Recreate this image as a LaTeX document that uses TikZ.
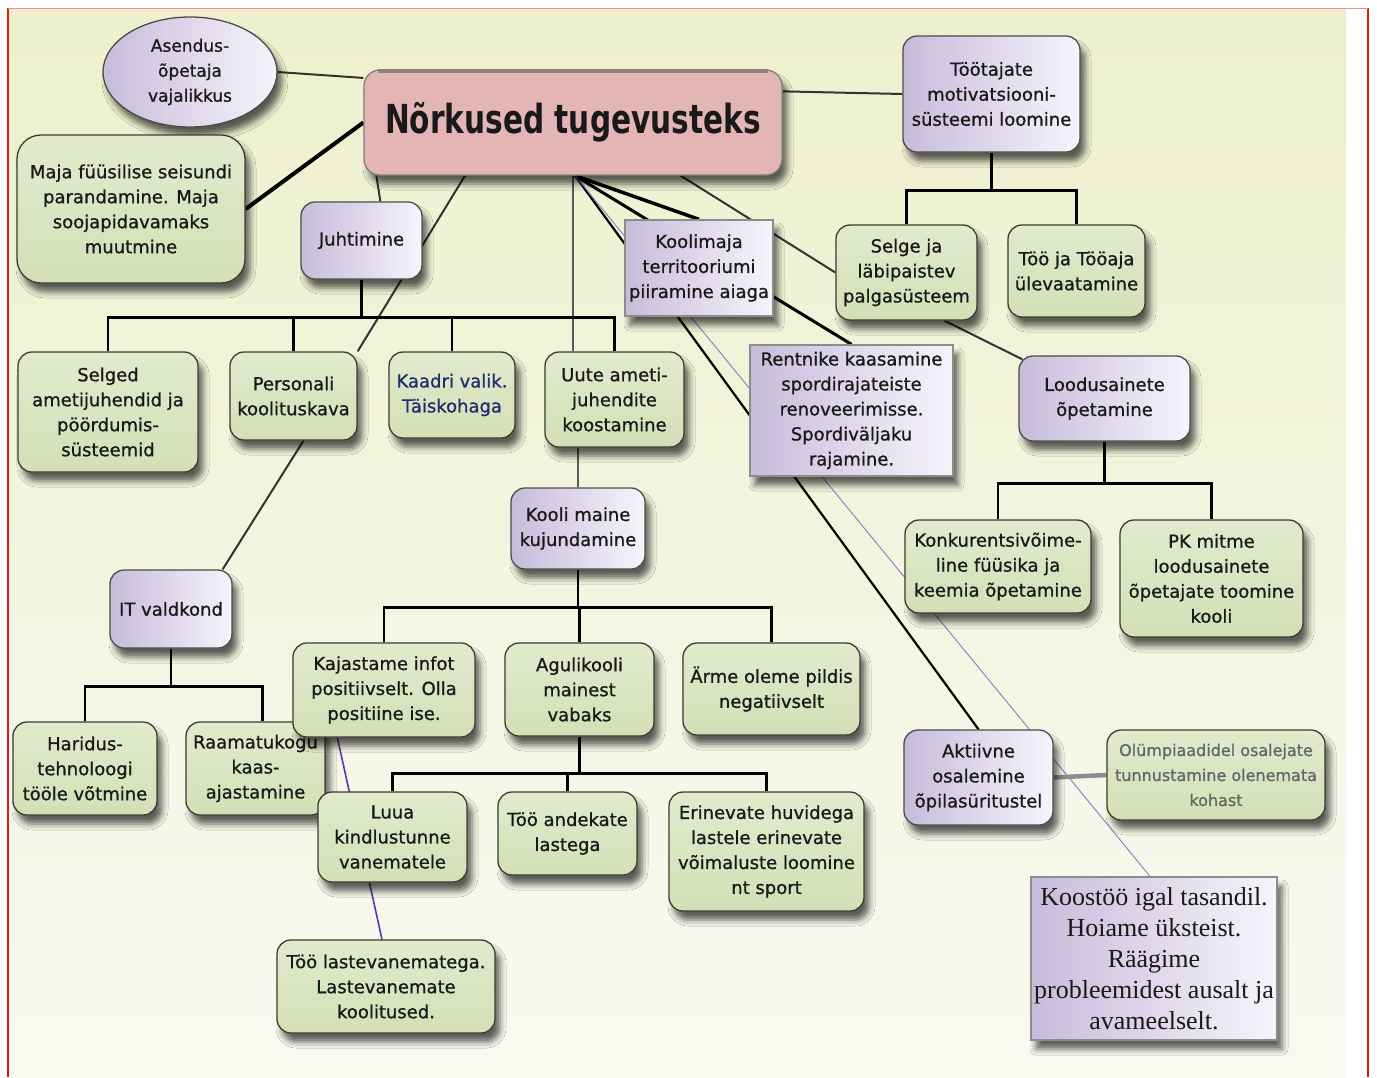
\documentclass[tikz,border=0pt]{standalone}
\usepackage{fontspec}
\setmainfont{DejaVu Sans}[RawFeature={embolden=0.9}]
\newfontfamily\titlefont{DejaVu Sans}[FakeStretch=0.74]
\newfontfamily\serfont{Liberation Serif}
\usetikzlibrary{shapes.geometric,shadows.blur,calc}
\pgfdeclarelayer{bgl}
\pgfdeclarelayer{lines}
\pgfsetlayers{bgl,lines,main}

\definecolor{bgtop}{RGB}{237,240,204}
\definecolor{bgmid}{RGB}{241,243,218}
\definecolor{bgbot}{RGB}{249,249,242}
\definecolor{grn}{RGB}{212,223,182}
\definecolor{grnl}{RGB}{226,234,205}
\definecolor{purL}{RGB}{198,188,218}
\definecolor{purR}{RGB}{247,244,252}
\definecolor{pinkf}{RGB}{227,181,181}
\definecolor{bordr}{RGB}{58,62,48}
\definecolor{lav}{RGB}{140,120,195}
\definecolor{vio}{RGB}{100,50,170}
\definecolor{navy}{RGB}{30,45,110}
\definecolor{redl}{RGB}{235,20,20}
\definecolor{bandc}{RGB}{140,130,128}

\tikzset{
  base/.style={inner sep=2pt, align=center, font={\fontsize{18}{25}\selectfont}, text=black!90, line width=1.3pt,
    blur shadow={shadow xshift=5pt,shadow yshift=-9pt,shadow blur radius=6pt,shadow opacity=62}},
  sz/.style 2 args={minimum width=#1pt, minimum height=#2pt},
  gbox/.style={base, rounded corners=14pt, draw=bordr, top color=grnl, bottom color=grn},
  pbox/.style={base, rounded corners=14pt, draw=black!70, left color=purL, right color=purR},
  prect/.style={base, draw=black!45, left color=purL, right color=purR},
  pell/.style={base, ellipse, draw=black!70, left color=purL, right color=purR},
  mainbox/.style={base, rounded corners=16pt, draw=black!50, fill=pinkf,
    font={\titlefont\bfseries\fontsize{40}{44}\selectfont}},
  treeln/.style={line width=2.6pt, black},
  lnk/.style={line width=2pt, black!80},
}

\begin{document}
\begin{tikzpicture}[x=1pt,y=-1pt]
\useasboundingbox (0,0) rectangle (1377,1077);

% nodes
\node[pell, sz={174}{110}, font={\fontsize{17}{25}\selectfont}] (asend) at (190,72) {Asendus-\\õpetaja\\vajalikkus};
\node[mainbox, sz={418}{105}] (main) at (573,122.5) {Nõrkused tugevusteks};
\draw[bandc, line width=4pt] ($(main.north west)+(15,2)$) -- ($(main.north east)+(-15,2)$);
\node[gbox, sz={228}{148}, rounded corners=24pt] (maja) at (131,209) {Maja füüsilise seisundi\\parandamine. Maja\\soojapidavamaks\\muutmine};
\node[pbox, sz={121}{77}] (juht) at (361.5,240.5) {Juhtimine};
\node[prect, sz={148}{96}] (koolim) at (699,268) {Koolimaja\\territooriumi\\piiramine aiaga};
\node[pbox, sz={177}{116}] (toot) at (991.5,94) {Töötajate\\motivatsiooni-\\süsteemi loomine};
\node[gbox, sz={141}{95}] (selge) at (906.5,272.5) {Selge ja\\läbipaistev\\palgasüsteem};
\node[gbox, sz={137}{92}] (tooaeg) at (1076.5,271) {Töö ja Tööaja\\ülevaatamine};
\node[gbox, sz={180}{120}] (selged) at (108,412) {Selged\\ametijuhendid ja\\pöördumis-\\süsteemid};
\node[gbox, sz={127}{88}] (pers) at (293.5,396) {Personali\\koolituskava};
\node[gbox, sz={126}{86}, text=navy] (kaadri) at (452,395) {Kaadri valik.\\Täiskohaga};
\node[gbox, sz={139}{95}] (uute) at (614.5,399.5) {Uute ameti-\\juhendite\\koostamine};
\node[prect, sz={203}{131}] (rent) at (851.5,410.5) {Rentnike kaasamine\\spordirajateiste\\renoveerimisse.\\Spordiväljaku\\rajamine.};
\node[pbox, sz={171}{85}] (lood) at (1104.5,398.5) {Loodusainete\\õpetamine};
\node[pbox, sz={134}{81}] (kooli) at (578,528.5) {Kooli maine\\kujundamine};
\node[gbox, sz={186}{93}] (konk) at (998,566.5) {Konkurentsivõime-\\line füüsika ja\\keemia õpetamine};
\node[gbox, sz={183}{117}] (pk) at (1211.5,578.5) {PK mitme\\loodusainete\\õpetajate toomine\\kooli};
\node[pbox, sz={122}{78}] (it) at (171,609) {IT valdkond};
\node[gbox, sz={139}{93}] (raam) at (255.5,768.5) {Raamatukogu\\kaas-\\ajastamine};
\node[gbox, sz={182}{94}] (kaj) at (384,690) {Kajastame infot\\positiivselt. Olla\\positiine ise.};
\node[gbox, sz={149}{93}] (agul) at (579.5,689.5) {Agulikooli\\mainest\\vabaks};
\node[gbox, sz={177}{92}] (arme) at (771.5,689) {Ärme oleme pildis\\negatiivselt};
\node[pbox, sz={149}{95}] (akt) at (978.5,777.5) {Aktiivne\\osalemine\\õpilasüritustel};
\node[gbox, sz={218}{90}, text=black!60, font={\fontsize{16}{25}\selectfont}] (olym) at (1216,775) {Olümpiaadidel osalejate\\tunnustamine olenemata\\kohast};
\node[gbox, sz={144}{93}] (harid) at (85,768.5) {Haridus-\\tehnoloogi\\tööle võtmine};
\node[gbox, sz={149}{90}] (luua) at (392.5,837) {Luua\\kindlustunne\\vanematele};
\node[gbox, sz={139}{83}] (andek) at (567.5,833.5) {Töö andekate\\lastega};
\node[gbox, sz={195}{119}] (erin) at (766.5,851.5) {Erinevate huvidega\\lastele erinevate\\võimaluste loomine\\nt sport};
\node[gbox, sz={218}{93}] (toolv) at (386,986.5) {Töö lastevanematega.\\Lastevanemate\\koolitused.};
\node[prect, sz={246}{163}, font={\serfont\fontsize{26}{31}\selectfont}] (koos) at (1154,958.5) {Koostöö igal tasandil.\\Hoiame üksteist.\\Räägime\\probleemidest ausalt ja\\avameelselt.};

% background
\begin{pgfonlayer}{bgl}
\fill[white] (0,0) rectangle (1377,1077);
\shade[top color=bgtop, middle color=bgmid, bottom color=bgbot] (9,9) rectangle (1346,1077);
\draw[redl, line width=2pt] (8,8) -- (8,1077);
\draw[redl, line width=2pt] (1368,8) -- (1368,1077);
\draw[red!45, line width=1pt] (8,8) -- (1368,8);
\end{pgfonlayer}

% connectors
\begin{pgfonlayer}{lines}
\draw[lnk] (asend.east) -- (main.168);
\draw[line width=4pt, black] (maja.east) -- (main.west);
\draw[lnk] ($(main.south west)+(13,0)$) -- ($(juht.north west)+(80,0)$);
\draw[lnk] ($(main.south)+(-108,0)$) -- (pers.north east);
\draw[lnk] ($(pers.south)+(10,0)$) -- ($(it.north east)+(-10,0)$);
\draw[lnk, black!65] (main.south) -- (main.south |- uute.north);
\draw[lnk, black!65] (kooli.north |- uute.south) -- (kooli.north);
\draw[lnk] ($(main.north east)+(0,22)$) -- (toot.west);
\draw[lnk] ($(main.south east)+(-102,0)$) -- (selge.west);
\draw[lnk] ($(selge.south)+(38,0)$) -- ($(lood.north west)+(4,4)$);
% fan from main
\draw[line width=3.5pt, black] ($(main.south)+(2,0)$) -- (koolim.north);
\draw[line width=3pt, black] ($(main.south)+(2,0)$) -- (rent.north);
\draw[line width=2.2pt, black] ($(main.south)+(2,0)$) -- (akt.north);
\draw[lav, line width=0.9pt] ($(main.south)+(2,0)$) -- ($(koos.north)+(-4,0)$);
\draw[vio, line width=1.6pt] ($(kaj.south west)+(45,0)$) -- ($(toolv.north)+(-4,0)$);
\draw[black!45, line width=4.5pt] (akt.east) -- (olym.west);
% trees
\coordinate (jb) at ($(juht.south)+(0,38)$);
\draw[treeln] (juht.south) -- (jb);
\draw[treeln] (selged.north) |- (jb) -| (uute.north);
\draw[treeln] (pers.north) -- (pers.north |- jb);
\draw[treeln] (kaadri.north) -- (kaadri.north |- jb);
\coordinate (kb) at ($(kooli.south)+(0,38)$);
\draw[treeln] (kooli.south) -- (kb);
\draw[treeln] (kaj.north) |- (kb) -| (arme.north);
\draw[treeln] (agul.north) -- (agul.north |- kb);
\coordinate (ab) at ($(agul.south)+(0,37)$);
\draw[treeln] (agul.south) -- (ab);
\draw[treeln] (luua.north) |- (ab) -| (erin.north);
\draw[treeln] (andek.north) -- (andek.north |- ab);
\coordinate (ib) at ($(it.south)+(0,38)$);
\draw[treeln] (it.south) -- (ib);
\draw[treeln] (harid.north) |- (ib) -| ($(raam.north)+(7,0)$);
\coordinate (tb) at ($(toot.south)+(0,38)$);
\draw[treeln] (toot.south) -- (tb);
\draw[treeln] (selge.north) |- (tb) -| (tooaeg.north);
\coordinate (lb) at ($(lood.south)+(0,42)$);
\draw[treeln] (lood.south) -- (lb);
\draw[treeln] (konk.north) |- (lb) -| (pk.north);
\end{pgfonlayer}
\end{tikzpicture}
\end{document}
